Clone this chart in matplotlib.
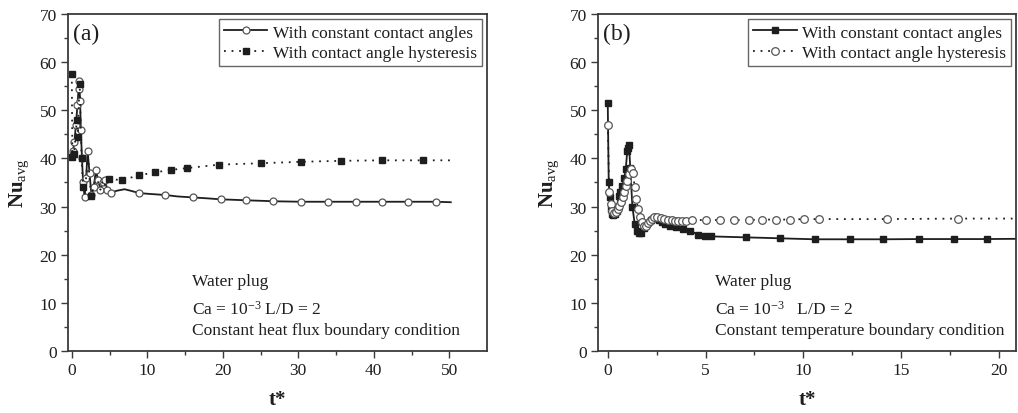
import matplotlib
matplotlib.use("Agg")
import matplotlib.pyplot as plt

plt.rcParams["font.family"] = ["Liberation Serif", "DejaVu Serif"]
plt.rcParams["mathtext.fontset"] = "custom"
plt.rcParams["mathtext.rm"] = "Liberation Serif"
plt.rcParams["mathtext.it"] = "Liberation Serif:italic"
plt.rcParams["mathtext.bf"] = "Liberation Serif:bold"

# ---- (a) constant heat flux ----
t_a_const = [0.0, 0.15, 0.35, 0.55, 0.75, 0.9, 1.0, 1.1, 1.2, 1.35, 1.5, 1.7, 1.9, 2.1,
             2.35, 2.6, 2.9, 3.2, 3.5, 3.8, 4.1, 4.4, 4.7, 5.25, 6.0, 7.0, 8.0, 8.9,
             10.5, 12.4, 14.0, 16.0, 18.0, 19.7, 21.5, 23.1, 25.0, 26.7, 28.5, 30.4,
             33.9, 37.6, 41.1, 44.6, 48.2, 50.2]
nu_a_const = [40.5, 41.5, 43.5, 47.0, 51.0, 54.5, 56.0, 52.0, 46.0, 40.0, 35.0, 32.0,
              36.0, 41.5, 37.0, 32.5, 34.0, 37.5, 35.5, 33.5, 35.0, 35.5, 33.5, 32.9,
              33.3, 33.6, 33.2, 32.8, 32.6, 32.4, 32.1, 31.9, 31.7, 31.5, 31.4, 31.3,
              31.2, 31.1, 31.05, 31.0, 31.0, 31.0, 31.0, 31.0, 31.0, 30.9]
t_a_hyst = [0.0, 0.08, 0.3, 0.5, 0.65, 0.8, 0.95, 1.05, 1.15, 1.3, 1.5, 1.7, 1.95, 2.15,
            2.4, 2.6, 2.9, 3.2, 3.5, 3.8, 4.1, 4.4, 4.9, 6.7, 8.9, 11.0, 13.1, 15.3,
            17.4, 19.5, 22.2, 25.0, 27.7, 30.4, 33.0, 35.7, 38.4, 41.1, 43.8, 46.5, 50.2]
nu_a_hyst = [57.5, 40.2, 41.0, 44.5, 48.0, 44.4, 52.0, 55.5, 49.0, 40.0, 34.0, 32.5,
             37.0, 40.5, 35.0, 32.2, 34.0, 36.5, 35.0, 33.5, 35.5, 34.5, 35.7, 35.5,
             36.5, 37.1, 37.6, 38.0, 38.35, 38.7, 38.85, 39.0, 39.15, 39.3, 39.4, 39.5,
             39.55, 39.6, 39.6, 39.6, 39.6]

# ---- (b) constant wall temperature ----
t_b_const = [0.0, 0.05, 0.1, 0.15, 0.2, 0.27, 0.35, 0.45, 0.55, 0.65, 0.75, 0.85, 0.92,
             1.0, 1.05, 1.09, 1.15, 1.26, 1.38, 1.5, 1.6, 1.7, 1.85, 2.0, 2.2, 2.4, 2.6,
             2.75, 2.95, 3.17, 3.51, 3.85, 4.23, 4.62, 4.96, 5.3, 6.2, 7.06, 8.0, 8.83,
             9.7, 10.59, 12.4, 14.1, 15.9, 17.7, 19.4, 20.9]
nu_b_const = [51.5, 35.0, 32.0, 29.5, 28.5, 28.3, 28.4, 29.0, 32.2, 33.0, 34.3, 36.0,
              37.8, 41.6, 42.2, 42.7, 38.0, 30.0, 26.3, 25.0, 24.6, 24.6, 25.5, 26.5,
              27.3, 27.6, 27.2, 26.8, 26.4, 26.0, 25.7, 25.3, 25.0, 24.1, 23.9, 23.8,
              23.7, 23.6, 23.5, 23.4, 23.3, 23.2, 23.2, 23.2, 23.25, 23.25, 23.25, 23.3]
t_b_hyst = [0.0, 0.08, 0.15, 0.22, 0.3, 0.4, 0.5, 0.6, 0.67, 0.76, 0.84, 0.92, 1.0, 1.08,
            1.18, 1.28, 1.38, 1.46, 1.55, 1.65, 1.75, 1.84, 1.96, 2.07, 2.17, 2.25, 2.37,
            2.52, 2.7, 2.9, 3.08, 3.26, 3.44, 3.6, 3.8, 4.0, 4.33, 5.01, 5.73, 6.46, 7.2,
            7.9, 8.6, 9.3, 10.05, 10.8, 12.5, 14.3, 16.1, 17.9, 19.6, 20.9]
nu_b_hyst = [47.0, 33.0, 30.5, 29.0, 28.6, 28.8, 29.5, 30.2, 31.0, 32.0, 33.0, 34.3, 35.3,
             36.8, 37.9, 37.0, 34.0, 31.5, 29.5, 27.8, 26.8, 26.0, 26.0, 26.5, 27.0, 27.5,
             27.8, 27.9, 27.7, 27.5, 27.3, 27.2, 27.1, 27.1, 27.1, 27.1, 27.2, 27.2, 27.2,
             27.2, 27.2, 27.3, 27.3, 27.3, 27.4, 27.4, 27.4, 27.4, 27.45, 27.5, 27.5, 27.5]

label_const = "With constant contact angles"
label_hyst = "With contact angle hysteresis"

INK = "#1e1e1e"
SPINE = "#3a3a3a"


def marker_idx(t, keep_before, keep_times):
    out = []
    for i, v in enumerate(t):
        if v <= keep_before or any(abs(v - k) < 1e-9 for k in keep_times):
            out.append(i)
    return out


fig = plt.figure(figsize=(10.18, 4.14), dpi=100)
ax1 = fig.add_axes([0.0668, 0.1498, 0.4116, 0.814])
ax2 = fig.add_axes([0.5874, 0.1498, 0.4111, 0.814])

dotted = (0, (1, 3.2))

# panel (a)
ax1.plot(t_a_const, nu_a_const, color=INK, lw=1.3, marker="o", ms=5, mfc="white",
         mec="#555555", mew=0.9,
         markevery=marker_idx(t_a_const, 4.7, [5.25, 8.9, 12.4, 16.0, 19.7, 23.1, 26.7,
                                               30.4, 33.9, 37.6, 41.1, 44.6, 48.2]),
         label=label_const)
ax1.plot(t_a_hyst, nu_a_hyst, color=INK, lw=1.3, ls=dotted, marker="s", ms=5, mfc=INK,
         mec=INK,
         markevery=marker_idx(t_a_hyst, -1, [0.0, 0.08, 0.3, 0.65, 0.8, 1.05, 1.3, 1.5,
                                             2.6, 4.9, 6.7, 8.9, 11.0, 13.1, 15.3, 19.5,
                                             25.0, 30.4, 35.7, 41.1, 46.5]),
         label=label_hyst)

# panel (b)
ax2.plot(t_b_const, nu_b_const, color=INK, lw=1.3, marker="s", ms=4, mfc=INK, mec=INK,
         markevery=marker_idx(t_b_const, 5.3, [7.06, 8.83, 10.59, 12.4, 14.1, 15.9,
                                               17.7, 19.4]),
         label=label_const)
ax2.plot(t_b_hyst, nu_b_hyst, color=INK, lw=1.3, ls=dotted, marker="o", ms=5.5,
         mfc="white", mec="#555555", mew=0.9,
         markevery=marker_idx(t_b_hyst, 10.8, [14.3, 17.9]),
         label=label_hyst)

panels = [
    (ax1, (-0.5, 55), [0, 10, 20, 30, 40, 50], 5, "(a)",
     "Constant heat flux boundary condition", r"Ca = 10$^{-3}$ L/D = 2", 0.296),
    (ax2, (-0.5, 20.9), [0, 5, 10, 15, 20], 2.5, "(b)",
     "Constant temperature boundary condition", r"Ca = 10$^{-3}$   L/D = 2", 0.279),
]

for ax, xlim, xt, xminor, tag, bc, ca, tx in panels:
    ax.set_xlim(*xlim)
    ax.set_ylim(0, 70)
    ax.set_xticks(xt)
    ax.set_xticks([v + xminor for v in xt if v + xminor < xlim[1]], minor=True)
    ax.set_yticks(range(0, 71, 10))
    ax.set_yticks(range(5, 70, 10), minor=True)
    ax.tick_params(which="major", direction="out", length=5, width=1.0, color=SPINE,
                   labelsize=12.5, labelcolor=INK, top=False, right=False, pad=3)
    ax.tick_params(which="minor", direction="out", length=3, width=1.0, color=SPINE,
                   top=False, right=False)
    for s in ax.spines.values():
        s.set_color(SPINE)
        s.set_linewidth(1.3)
    ax.set_xlabel("t*", fontsize=15, fontweight="bold", color=INK, labelpad=8)
    ax.set_ylabel(r"$\mathbf{Nu}_{\mathrm{avg}}$", fontsize=15, color=INK, labelpad=6)
    ax.text(0.012, 0.975, tag, transform=ax.transAxes, fontsize=17, va="top",
            ha="left", color=INK)
    ax.text(tx, 0.196, "Water plug", transform=ax.transAxes, fontsize=12.5, color=INK)
    ax.text(tx, 0.110, ca, transform=ax.transAxes, fontsize=12.5, color=INK)
    ax.text(tx, 0.049, bc, transform=ax.transAxes, fontsize=12.5, color=INK)
    leg = ax.legend(loc="upper right", fontsize=12.5, frameon=True, fancybox=False,
                    edgecolor="#666666", framealpha=1, borderpad=0.3,
                    labelspacing=0.25, handlelength=2.5, handletextpad=0.3,
                    borderaxespad=0.3)
    leg.get_frame().set_linewidth(1.0)
    for txt in leg.get_texts():
        txt.set_color(INK)

fig.savefig("out.png", dpi=100, facecolor="white")
